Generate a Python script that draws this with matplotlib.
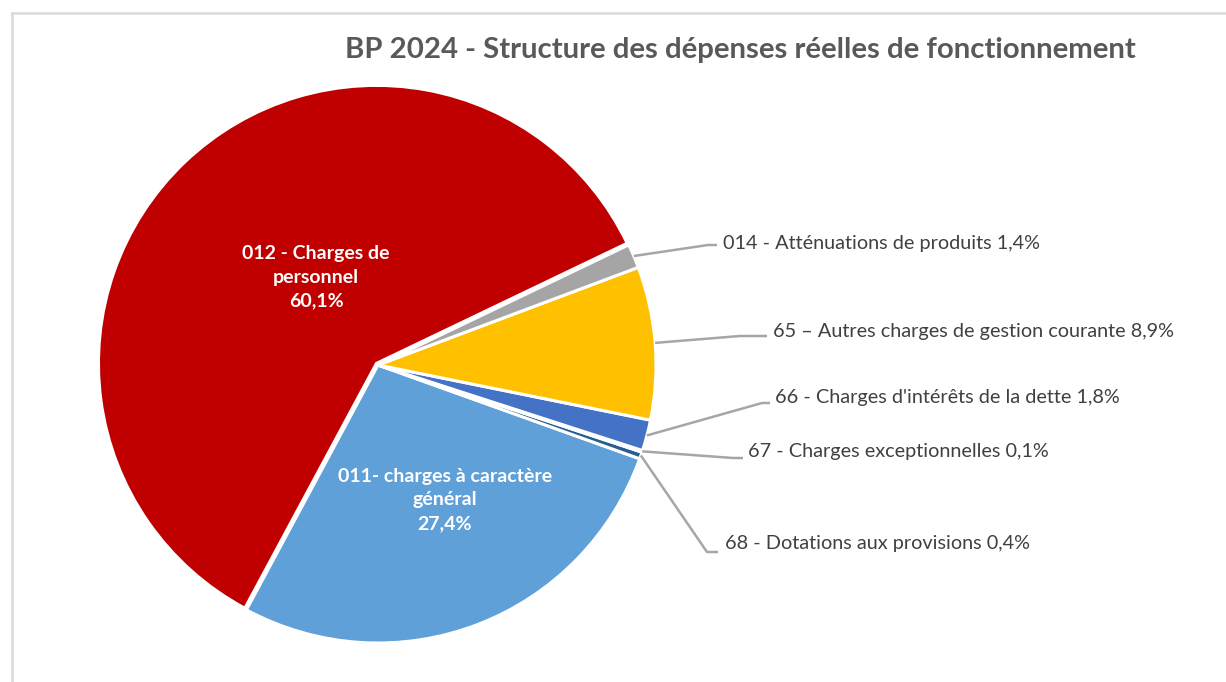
import matplotlib.pyplot as plt
import numpy as np
from matplotlib.lines import Line2D

plt.rcParams['font.family'] = ['Lato', 'DejaVu Sans']

# slices, counter-clockwise from the 012 / 014 boundary
codes = ['012', '011', '68', '67', '66', '65', '014']
labels = ['012 - Charges de\npersonnel',
          '011- charges à caractère\ngénéral',
          '68 - Dotations aux provisions',
          '67 - Charges exceptionnelles',
          "66 - Charges d'intérêts de la dette",
          '65 – Autres charges de gestion courante',
          '014 - Atténuations de produits']
values = [60.1, 27.4, 0.4, 0.1, 1.8, 8.9, 1.4]
colors = ['#C00000', '#5FA0D8', '#255E91', '#1F4E79', '#4472C4', '#FFC000', '#A5A5A5']

title = 'BP 2024 - Structure des dépenses réelles de fonctionnement'

W, H = 1226, 682
cx, cy, R = 378, 365, 278  # pie centre / radius in pixels

fig = plt.figure(figsize=(W / 100, H / 100), dpi=100)
ax = fig.add_axes([0, 0, 1, 1])

wedges, _ = ax.pie(values, colors=colors, startangle=25.6, counterclock=True,
                   explode=[0.008, 0, 0, 0, 0, 0, 0],
                   wedgeprops=dict(edgecolor='white', linewidth=2.2))
ax.set_xlim(-cx / R, (W - cx) / R)
ax.set_ylim(-(H - cy) / R, cy / R)
ax.set_aspect('equal', adjustable='datalim')
ax.axis('off')

def px(x, y):
    return (x - cx) / R, (cy - y) / R

def pct(v):
    return f'{v:.1f}'.replace('.', ',') + '%'

# inside labels (bold, white), centre in px
inside_pos = {0: (316, 277), 1: (445, 500)}
for i, (x, y) in inside_pos.items():
    ax.text(*px(x, y), labels[i] + '\n' + pct(values[i]), ha='center', va='center',
            color='white', fontsize=14, fontweight='bold', linespacing=1.45)

# outside labels: text x, text y, elbow x, line y, line end x (px)
outside = {6: (723, 243, 708, 245, 717),
           5: (773, 331, 740, 336, 767),
           4: (775, 398, 762, 403, 770),
           3: (748, 452, 733, 458, 743),
           2: (725, 543, 707, 552, 718)}
for i, (tx, ty, ex, ly, lx) in outside.items():
    w = wedges[i]
    ang = np.deg2rad((w.theta1 + w.theta2) / 2)
    a0 = (np.cos(ang), np.sin(ang))
    e = px(ex, ly)
    end = px(lx, ly)
    ax.plot([a0[0], e[0], end[0]], [a0[1], e[1], end[1]], color='#A6A6A6', lw=1.8,
            solid_capstyle='butt')
    ax.text(*px(tx, ty), labels[i] + ' ' + pct(values[i]), ha='left', va='center',
            color='#404040', fontsize=14.3)

fig.text(740 / W, 1 - 50 / H, title, ha='center', va='center', color='#595959',
         fontsize=21.2, fontweight='bold')

# chart area border
fig.add_artist(Line2D([12 / W, 12 / W], [0, 1 - 13 / H], color='#D9D9D9', lw=1.8,
                      transform=fig.transFigure))
fig.add_artist(Line2D([12 / W, 1], [1 - 13 / H, 1 - 13 / H], color='#D9D9D9', lw=1.8,
                      transform=fig.transFigure))

fig.savefig('out.png', dpi=100, facecolor='white')
